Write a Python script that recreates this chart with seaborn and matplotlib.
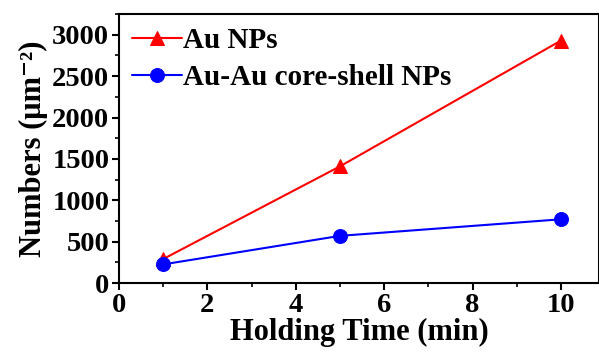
import matplotlib
matplotlib.use("Agg")
import matplotlib.pyplot as plt
import seaborn as sns
import pandas as pd
from matplotlib.ticker import MultipleLocator

# data
time_min = [1, 5, 10]
au_nps = [290, 1410, 2930]
core_shell = [225, 570, 770]

sns.set_theme(style="ticks")
plt.rcParams["font.family"] = ["Liberation Serif", "DejaVu Serif"]
plt.rcParams["font.weight"] = "bold"
plt.rcParams["text.color"] = "black"
plt.rcParams["axes.labelcolor"] = "black"
plt.rcParams["xtick.color"] = "black"
plt.rcParams["ytick.color"] = "black"

df = pd.DataFrame({
    "time": time_min * 2,
    "value": au_nps + core_shell,
    "series": ["Au NPs"] * 3 + ["Au-Au core-shell NPs"] * 3,
})

fig = plt.figure(figsize=(5.99, 3.52), dpi=100)
ax = fig.add_axes([0.1987, 0.196, 0.8013, 0.764])

sns.lineplot(data=df[df["series"] == "Au NPs"], x="time", y="value",
             color="#ff0000", marker="^", markersize=10, markeredgecolor="#ff0000",
             linewidth=1.5, label="Au NPs", ax=ax)
sns.lineplot(data=df[df["series"] == "Au-Au core-shell NPs"], x="time", y="value",
             color="#0000ff", marker="o", markersize=10, markeredgecolor="#0000ff",
             linewidth=1.5, label="Au-Au core-shell NPs", ax=ax)

ax.set_xlim(0, 10.86)
ax.set_ylim(0, 3250)
ax.xaxis.set_major_locator(MultipleLocator(2))
ax.xaxis.set_minor_locator(MultipleLocator(1))
ax.yaxis.set_major_locator(MultipleLocator(500))
ax.yaxis.set_minor_locator(MultipleLocator(250))
ax.tick_params(which="major", direction="out", length=5, width=1.5, labelsize=20.5, pad=2)
ax.tick_params(which="minor", direction="out", length=3, width=1.2)
for lab in ax.get_xticklabels() + ax.get_yticklabels():
    lab.set_fontweight("bold")
for sp in ax.spines.values():
    sp.set_linewidth(1.5)
    sp.set_color("black")

ax.set_xlabel("Holding Time (min)", fontsize=22, fontweight="bold", labelpad=0)
ax.set_ylabel("Numbers (\u03bcm\u207b\u00b2)", fontsize=22, fontweight="bold", labelpad=3)

leg = ax.legend(loc="upper left", frameon=False, fontsize=21, handlelength=1.7,
                handletextpad=0.05, borderaxespad=0.2, labelspacing=0.35,
                borderpad=0.25)
for t in leg.get_texts():
    t.set_fontweight("bold")

fig.savefig("out.png", dpi=100)
